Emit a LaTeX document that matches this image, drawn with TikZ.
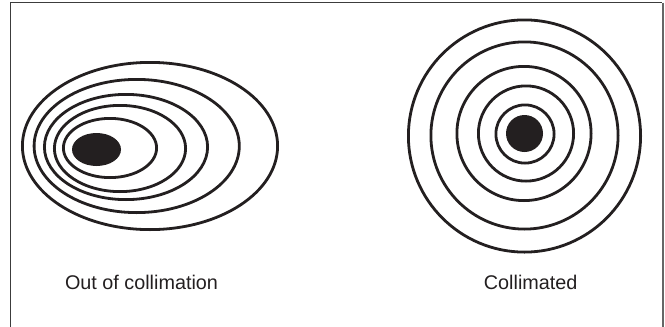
\documentclass[tikz,border=0pt]{standalone}
\usepackage{fontspec}
\setmainfont{Liberation Sans}
\usetikzlibrary{positioning}
\definecolor{inkblack}{RGB}{35,31,32}
\definecolor{framegray}{RGB}{60,60,60}

\begin{document}
\begin{tikzpicture}[
    x=1pt, y=-1pt,
    ring/.style={draw=inkblack, line width=2.8pt},
    spot/.style={fill=inkblack},
    caption/.style={anchor=base, font=\fontsize{19.8}{22}\selectfont, text=inkblack, inner sep=0pt}
]
\useasboundingbox (0,0) rectangle (665,327);

% frame, open at the bottom
\draw[framegray, line width=1.1pt] (10.5,327) |- (662,2.5);
\draw[gray!80!black, line width=2pt] (663,2.5) -- (663,327);

% out of collimation
\foreach \cx/\cy/\rx/\ry in {150/146/127.6/83.6, 136.7/146/102.6/66.6,
        126/147/81.6/52.6, 120/148.5/65.6/43.1, 110/148/46.6/29.6}
    \draw[ring] (\cx,\cy) ellipse [x radius=\rx, y radius=\ry];
\fill[spot] (96.5,149.5) ellipse [x radius=24.5, y radius=16.5];

% collimated
\foreach \cx/\cy/\r in {524.5/136/116.1, 524.5/135.5/93.6,
        524/133.5/67.1, 526/133.5/47.6, 525/134/29.1}
    \draw[ring] (\cx,\cy) circle [radius=\r];
\fill[spot] (524.5,133.5) circle [radius=18.5];

\node[caption] (outlabel) at (141.5,289.3) {Out of collimation};
\node[caption] (collabel) at (530.7,289.3) {Collimated};

\end{tikzpicture}
\end{document}
